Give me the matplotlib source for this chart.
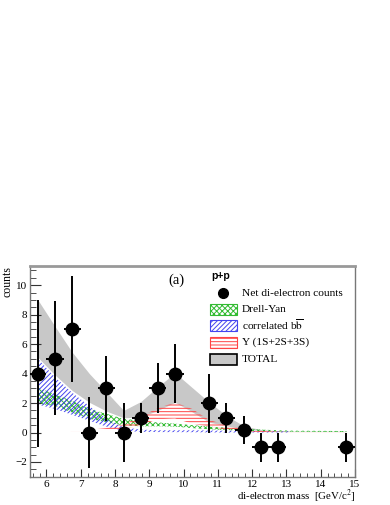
import matplotlib
matplotlib.use("Agg")
import matplotlib.pyplot as plt
from matplotlib.patches import Rectangle
from matplotlib.lines import Line2D
from matplotlib.ticker import MultipleLocator

plt.rcParams['font.family'] = ['Liberation Serif', 'DejaVu Serif']
plt.rcParams['mathtext.fontset'] = 'stix'
plt.rcParams['hatch.linewidth'] = 0.7

# net di-electron counts
mass = [5.75, 6.25, 6.75, 7.25, 7.75, 8.25, 8.75, 9.25, 9.75, 10.75, 11.25, 11.75, 12.25, 12.75, 14.75]
counts = [4, 5, 7, 0, 3, 0, 1, 3, 4, 2, 1, 0.15, -1, -1, -1]
err_lo = [5.0, 3.8, 3.6, 2.4, 2.2, 2.0, 1.0, 1.7, 2.0, 2.0, 1.0, 0.95, 1.0, 1.0, 1.0]
err_hi = [5.0, 3.9, 3.6, 2.4, 2.2, 2.0, 1.0, 1.7, 2.0, 2.0, 1.0, 0.95, 1.0, 1.0, 1.0]

# model bands
band_x = [5.75, 6.25, 6.75, 7.25, 7.75, 8.25, 8.75, 9.25, 9.75, 10.25, 10.75, 11.25, 11.75, 12.25, 12.75, 13.25, 14.75]
total_hi = [9.0, 7.2, 5.45, 4.0, 2.75, 1.5, 2.1, 3.1, 4.05, 3.05, 2.05, 1.15, 0.45, 0.2, 0.12, 0.1, 0.1]
total_lo = [5.1, 3.9, 2.85, 2.05, 1.45, 1.0, 1.05, 1.5, 2.05, 1.4, 0.7, 0.45, 0.25, 0.12, 0.1, 0.08, 0.08]
dy_hi = [3.05, 2.6, 2.15, 1.6, 1.27, 0.93, 0.8, 0.68, 0.6, 0.5, 0.4, 0.32, 0.26, 0.2, 0.15, 0.12, 0.1]
dy_lo = [1.95, 1.8, 1.35, 0.93, 0.7, 0.48, 0.42, 0.42, 0.4, 0.3, 0.22, 0.16, 0.12, 0.08, 0.06, 0.05, 0.03]

bb_x = [5.75, 6.25, 6.75, 7.25, 7.75, 8.25, 8.75, 9.25, 10.25, 11.25, 12.25, 13.1]
bb_hi = [5.0, 3.75, 2.7, 1.8, 0.93, 0.35, 0.2, 0.15, 0.15, 0.12, 0.1, 0.08]
bb_lo = [1.9, 1.6, 1.2, 0.8, 0.4, 0.1, 0.05, 0.03, 0.02, 0.0, 0.0, 0.0]

ups_x = [6.7, 7.25, 7.75, 8.25, 8.75, 9.25, 9.75, 10.25, 10.75, 11.25, 11.75, 12.25, 12.75, 13.25, 14.75]
ups_hi = [0.15, 0.18, 0.3, 0.55, 1.1, 1.65, 2.05, 1.6, 0.85, 0.5, 0.25, 0.1, 0.05, 0.03, 0.03]
ups_lo = [0.1, 0.1, 0.12, 0.2, 0.5, 0.9, 0.95, 0.6, 0.4, 0.2, 0.1, 0.03, 0.02, 0.0, 0.0]

legend_labels = ['Net di-electron counts', 'Drell-Yan', r'correlated b$\overline{\rm b}$',
                 'Υ (1S+2S+3S)', 'TOTAL']

GRAY = '#c8c8c8'
GREEN, BLUE, RED = '#33bb33', '#4444ee', '#ff4444'
H_GREEN, H_BLUE, H_RED = 'xxxxxx', '///////', '-----'

fig = plt.figure(figsize=(3.9, 5.05), dpi=100)
ax = fig.add_axes([30 / 390, 1 - 477 / 505, 325 / 390, 211 / 505])

ax.fill_between(band_x, total_lo, total_hi, color=GRAY, lw=0)
ax.fill_between(band_x, dy_lo, dy_hi, facecolor='none', edgecolor=GREEN, hatch=H_GREEN, lw=0)
ax.fill_between(bb_x, bb_lo, bb_hi, facecolor='none', edgecolor=BLUE, hatch=H_BLUE, lw=0)
ax.fill_between(ups_x, ups_lo, ups_hi, facecolor='none', edgecolor=RED, hatch=H_RED, lw=0)

ax.errorbar(mass, counts, yerr=[err_lo, err_hi], xerr=0.25, fmt='o', color='black',
            markersize=9, elinewidth=1.4, capsize=0, zorder=5)

ax.set_xlim(5.52, 15)
ax.set_ylim(-3.02, 11.3)
ax.xaxis.set_major_locator(MultipleLocator(1))
ax.xaxis.set_minor_locator(MultipleLocator(0.2))
ax.yaxis.set_major_locator(MultipleLocator(2))
ax.yaxis.set_minor_locator(MultipleLocator(0.5))
ax.tick_params(which='both', direction='in', top=False, right=False, color='#333333',
               labelsize=8, pad=2)
ax.tick_params(axis='y', which='major', length=8)
ax.tick_params(axis='y', which='minor', length=4)
ax.tick_params(axis='x', which='major', length=6)
ax.tick_params(axis='x', which='minor', length=3)
for sp in ax.spines.values():
    sp.set_color('#777777')
    sp.set_linewidth(1.0)
ax.spines['top'].set_linewidth(2.0)
ax.spines['top'].set_color('#999999')

ax.set_xlabel('di-electron mass  [GeV/c$^2$]', fontsize=7.8, ha='right', va='center')
ax.xaxis.set_label_coords(1.0, -0.093)
ax.set_ylabel('counts', fontsize=8.5, ha='right', va='center')
ax.yaxis.set_label_coords(-0.068, 1.0)

ax.text(0.452, 0.934, '(a)', transform=ax.transAxes, fontsize=10.5, ha='center', va='center')

# legend drawn by hand (ROOT style)
W, H = 390, 505
fig.text(211 / W, 1 - 276 / H, 'p+p', family='Liberation Sans', weight='bold', fontsize=7.5,
         ha='left', va='center')
rows = [293, 309, 325, 342, 359]
styles = [None, (GREEN, H_GREEN, 'white'), (BLUE, H_BLUE, 'white'), (RED, H_RED, 'white'),
          ('black', None, GRAY)]
for lab, yy, st in zip(legend_labels, rows, styles):
    y0 = 1 - yy / H
    if st is None:
        fig.add_artist(Line2D([223.5 / W], [y0], marker='o', color='black', markersize=7,
                              transform=fig.transFigure))
    else:
        ec, ht, fc = st
        fig.add_artist(Rectangle((210 / W, y0 - 5.5 / H), 27 / W, 11 / H, transform=fig.transFigure,
                                 facecolor=fc, edgecolor=ec, hatch=ht,
                                 lw=1.2 if ht is None else 0.8))
    fig.text(242 / W, y0, lab, fontsize=8.2, ha='left', va='center')

fig.savefig('out.png', dpi=100)
